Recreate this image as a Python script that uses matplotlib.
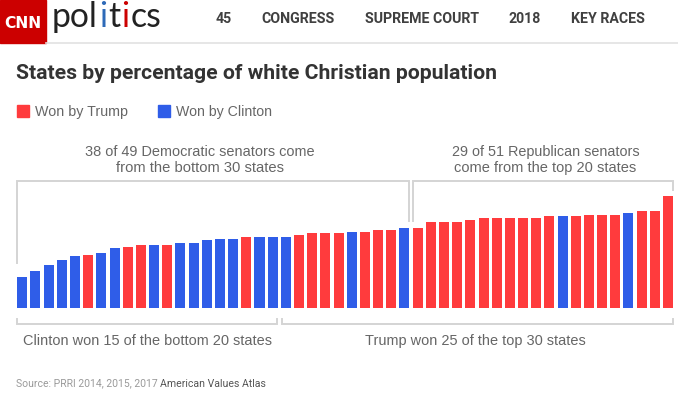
import matplotlib
matplotlib.use("Agg")
import matplotlib.pyplot as plt
from matplotlib.patches import Rectangle
from matplotlib.lines import Line2D

# ---------------- data ----------------
# share of white Christians by state, sorted ascending
pct = [18.3, 22.0, 25.7, 28.6, 30.6, 31.4, 32.6, 35.3, 36.3, 37.3,
       37.3, 37.3, 38.3, 38.3, 40.0, 41.0, 41.0, 42.0, 42.0, 42.0,
       42.0, 43.0, 44.0, 44.0, 44.0, 45.0, 45.0, 46.0, 46.0, 47.0,
       47.0, 51.0, 51.0, 51.0, 52.0, 53.0, 53.0, 53.0, 53.0, 53.0,
       54.0, 54.0, 54.0, 55.0, 55.0, 55.0, 56.0, 57.0, 57.0, 66.0]
# winner per state: T = Trump, C = Clinton
winner = list("CCCCCTCCTT" "CTCCCCCTCC" "CTTTTCTTTC" "TTTTTTTTTT" "TCTTTTCTTT")

legend_labels = ["Won by Trump", "Won by Clinton"]
title = "States by percentage of white Christian population"
top_notes = ["38 of 49 Democratic senators come\nfrom the bottom 30 states",
             "29 of 51 Republican senators\ncome from the top 20 states"]
bottom_notes = ["Clinton won 15 of the bottom 20 states",
                "Trump won 25 of the top 30 states"]
nav_items = ["45", "CONGRESS", "SUPREME COURT", "2018", "KEY RACES"]
source_a = "Source: PRRI 2014, 2015, 2017"
source_b = "American Values Atlas"

RED = "#FF3B3D"
BLUE = "#2F5DE8"
GREY_TXT = "#666666"
BRACKET = "#D4D4D4"

W, H = 678, 393
fig = plt.figure(figsize=(W / 100, H / 100), dpi=100)
fig.patch.set_facecolor("white")
renderer = fig.canvas.get_renderer()


def ptext(x, y, s, width, size=10, **kw):
    """place text at pixel coords (x from left, y baseline from top), fit to width"""
    t = fig.text(x / W, 1 - y / H, s, fontsize=size, va="baseline", ha="left", **kw)
    bb = t.get_window_extent(renderer)
    t.set_fontsize(size * width / bb.width)
    return t


# ---------------- header ----------------
fig.patches.append(Rectangle((0, 1 - 42.7 / H), 45.7 / W, 42.7 / H,
                             transform=fig.transFigure, color="#CC0000"))
ptext(4, 28, "CNN", 37.5, size=14, color="white", family="DejaVu Sans",
      weight="bold")

# "politics" with coloured i's
x = 52.0
pieces = [("pol", "#222222"), ("i", "#2E6AB8"), ("t", "#222222"),
          ("i", "#CC0000"), ("cs", "#222222")]
psize = 24.3
for s, c in pieces:
    t = fig.text(x / W, 1 - 26.7 / H, s, fontsize=psize, family="Lato",
                 color=c, va="baseline", ha="left")
    x += t.get_window_extent(renderer).width + 1.2

nav_pos = [(216.7, 230.7), (262.7, 334.3), (365, 479), (510, 540), (570.7, 645)]
for s, (x0, x1) in zip(nav_items, nav_pos):
    fig.text((x0 + x1) / 2 / W, 1 - 23.3 / H, s, fontsize=10.2, va="baseline",
             ha="center", color="#404040", family="Roboto", weight="bold")

fig.lines.append(Line2D([45.7 / W, 1], [1 - 43.3 / H] * 2,
                        transform=fig.transFigure, color="#E2E2E2", lw=1.2))

# ---------------- title & legend ----------------
ptext(16, 79, title, 481, size=14, color="#333333", family="Roboto",
      weight="bold")

for (x0, x1), col in zip([(17, 28.5), (158.3, 169.8)], [RED, BLUE]):
    fig.patches.append(Rectangle((x0 / W, 1 - 116.5 / H), (x1 - x0) / W,
                                 11.5 / H, transform=fig.transFigure, color=col))
ptext(35, 115.7, legend_labels[0], 92.3, size=10, color=GREY_TXT,
      family="Liberation Sans")
ptext(176, 115.7, legend_labels[1], 95.7, size=10, color=GREY_TXT,
      family="Liberation Sans")

# ---------------- bars ----------------
left_px, right_px, base_px, top_px = 15.7, 674.6, 308.3, 181.0
ax = fig.add_axes([left_px / W, (H - base_px) / H, (right_px - left_px) / W,
                   (base_px - top_px) / H])
ymax = 74.8
idx = list(range(len(pct)))
colors = [RED if w == "T" else BLUE for w in winner]
ax.bar(idx, pct, width=0.76, color=colors)
ax.set_xlim(-0.5, len(pct) - 0.5)
ax.set_ylim(0, ymax)
ax.axis("off")


# brackets (in data coordinates of the bar axes)
def bracket(xs, ys):
    ax.plot(xs, ys, color=BRACKET, lw=1.4, clip_on=False,
            solid_joinstyle="miter")


bracket([-0.38, -0.38, 29.36, 29.36], [26.6, ymax, ymax, 51.3])
bracket([29.62, 29.62, 49.35, 49.35], [51.3, ymax, ymax, 69.5])
bracket([-0.38, -0.38, 19.35, 19.35], [-6.3, -9.4, -9.4, -6.3])
bracket([19.68, 19.68, 49.35, 49.35], [-6.3, -9.4, -9.4, -6.3])

# ---------------- annotations ----------------
l1, l2 = top_notes[0].split("\n")
ptext(84.7, 156, l1, 229.3, size=10, color=GREY_TXT, family="Liberation Sans")
ptext(115.7, 171.7, l2, 167.6, size=10, color=GREY_TXT, family="Liberation Sans")
r1, r2 = top_notes[1].split("\n")
ptext(451.7, 156, r1, 187.3, size=10, color=GREY_TXT, family="Liberation Sans")
ptext(454, 171.7, r2, 182.7, size=10, color=GREY_TXT, family="Liberation Sans")

ptext(22.7, 345, bottom_notes[0], 248, size=10, color=GREY_TXT,
      family="Liberation Sans")
ptext(365, 345, bottom_notes[1], 221, size=10, color=GREY_TXT,
      family="Liberation Sans")

# ---------------- source ----------------
ptext(16, 386.7, source_a, 141, size=8, color="#9A9A9A", family="Roboto")
ptext(160.5, 386.7, source_b, 106, size=8, color="#555555", family="Roboto")

fig.savefig("out.png", dpi=100, facecolor="white")
